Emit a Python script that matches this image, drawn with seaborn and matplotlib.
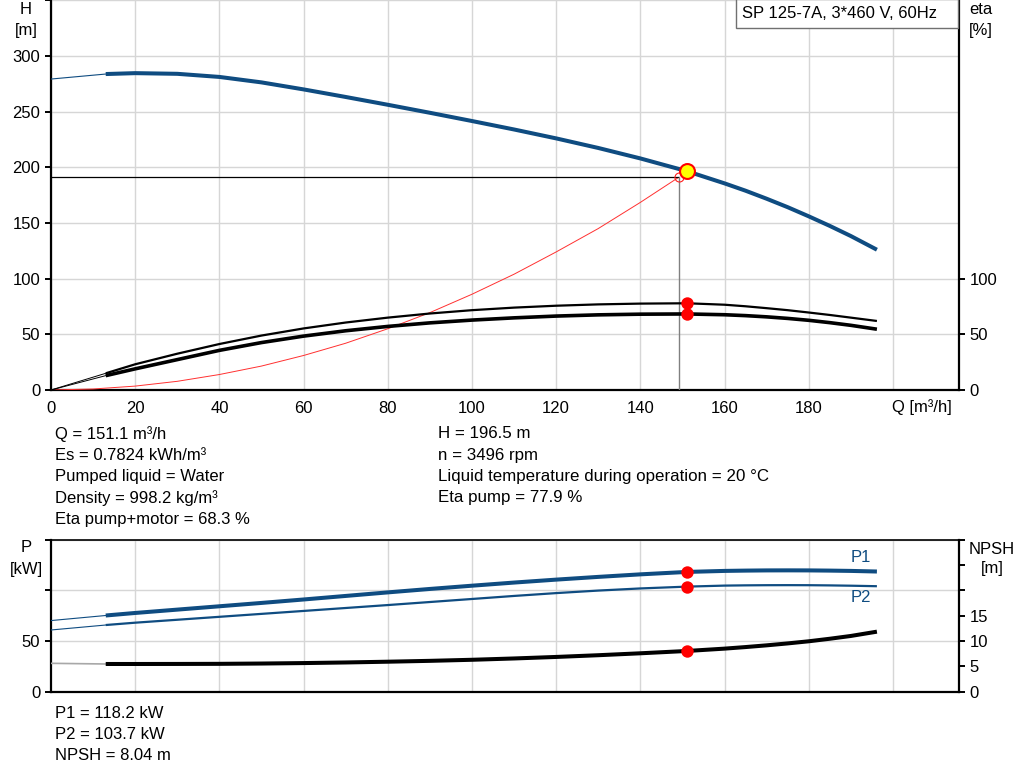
import matplotlib
matplotlib.use("Agg")
import matplotlib.pyplot as plt
import seaborn as sns
from matplotlib.patches import Rectangle

# ---------------- data ----------------
q = [13, 20, 30, 40, 50, 60, 70, 80, 90, 100, 110, 120, 130, 140, 151.1,
     160, 165, 170, 175, 180, 185, 190, 196.2]
head = [283.8, 284.6, 284.0, 281.2, 276.3, 270.0, 263.2, 256.2, 249.0, 241.6,
        234.0, 226.0, 217.4, 208.0, 196.5, 185.6, 179.0, 171.8, 164.2, 156.0,
        147.4, 138.3, 126.0]
eta_pump = [15.0, 23.1, 32.6, 41.3, 48.9, 55.3, 60.6, 65.0, 68.7, 71.7,
            74.0, 75.7, 76.9, 77.6, 77.9, 76.6, 75.2, 73.5, 71.7, 69.6,
            67.4, 65.0, 62.0]
eta_total = [12.9, 19.0, 27.3, 35.6, 42.6, 48.4, 53.2, 57.1, 60.3, 62.8,
             64.8, 66.4, 67.5, 68.1, 68.3, 67.6, 66.8, 65.7, 64.3, 62.6,
             60.5, 58.1, 54.6]
p1 = [75.2, 77.7, 81.0, 84.3, 87.6, 91.0, 94.5, 98.0, 101.4, 104.6,
      107.7, 110.6, 113.3, 115.8, 118.2, 119.2, 119.5, 119.7, 119.75, 119.7,
      119.5, 119.2, 118.6]
p2 = [65.8, 68.1, 71.0, 73.9, 76.8, 79.7, 82.6, 85.5, 88.5, 91.5,
      94.5, 97.3, 99.8, 101.9, 103.7, 104.7, 104.95, 105.1, 105.15, 105.1,
      104.9, 104.6, 104.1]
npsh = [5.47, 5.47, 5.48, 5.50, 5.56, 5.65, 5.77, 5.92, 6.09, 6.30,
        6.56, 6.86, 7.20, 7.58, 8.04, 8.50, 8.81, 9.15, 9.53, 9.95,
        10.45, 11.0, 11.85]

q_ext = [0, 13]
head_ext = [279.3, 283.8]
eta_pump_ext = [0, 15.0]
eta_total_ext = [0, 12.9]
p1_ext = [70.2, 75.2]
p2_ext = [60.9, 65.8]
npsh_ext = [5.6, 5.47]

q_sys = [0, 10, 20, 30, 40, 50, 60, 70, 80, 90, 100, 110, 120, 130, 140, 149.1]
h_sys = [0, 0.9, 3.5, 7.8, 13.9, 21.5, 31.0, 42.0, 55.0, 69.5, 86.0, 104.0,
         124.0, 145.0, 168.5, 191.0]

duty_q, duty_h = 151.1, 196.5
duty_eta_pump, duty_eta_total = 77.9, 68.3
duty_p1, duty_p2, duty_npsh = 118.2, 103.7, 8.04
req_q, req_h = 149.1, 191.0

x_ticks = [0, 20, 40, 60, 80, 100, 120, 140, 160, 180, 200]
x_ticklabels = ["0", "20", "40", "60", "80", "100", "120", "140", "160", "180", ""]
h_ticks = [0, 50, 100, 150, 200, 250, 300, 350]
h_ticklabels = ["0", "50", "100", "150", "200", "250", "300", ""]
eta_ticks = [0, 50, 100]
p_ticks = [0, 50, 100, 150]
p_ticklabels = ["0", "50", "", ""]
npsh_ticks = [0, 5, 10, 15, 20, 25, 30]
npsh_ticklabels = ["0", "5", "10", "15", "", "", ""]

title = "SP 125-7A, 3*460 V, 60Hz"
info_left = ["Q = 151.1 m³/h", "Es = 0.7824 kWh/m³", "Pumped liquid = Water",
             "Density = 998.2 kg/m³", "Eta pump+motor = 68.3 %"]
info_mid = ["H = 196.5 m", "n = 3496 rpm",
            "Liquid temperature during operation = 20 °C", "Eta pump = 77.9 %"]
info_bottom = ["P1 = 118.2 kW", "P2 = 103.7 kW", "NPSH = 8.04 m"]

# ---------------- style ----------------
sns.set_theme(style="white")
plt.rcParams["font.family"] = ["Liberation Sans", "DejaVu Sans"]
plt.rcParams["font.size"] = 12
plt.rcParams["lines.solid_joinstyle"] = "round"

W, H = 1024, 781
fig = plt.figure(figsize=(W / 100, H / 100), dpi=100)
fig.patch.set_facecolor("white")


def fx(px):
    return px / W


def fy(py):
    return 1 - py / H


BLUE = "#0f4c81"
GRID = "#d6d6d6"
XMAX = 215.7
LINE = dict(sort=False, estimator=None)


def style_ticks(ax, axis="both"):
    ax.tick_params(axis=axis, direction="out", length=4.2, width=1.4,
                   color="black", labelsize=12, pad=3.5, labelcolor="black")


# ---------------- top chart ----------------
ax1 = fig.add_axes([fx(51), fy(390), fx(959 - 51), 390 / H])
ax1.set_xlim(0, XMAX)
ax1.set_ylim(0, 350.3)
ax1.set_facecolor("white")
ax1.set_xticks(x_ticks)
ax1.set_xticklabels(x_ticklabels)
ax1.set_yticks(h_ticks)
ax1.set_yticklabels(h_ticklabels)
ax1.grid(True, color=GRID, lw=1.0)
ax1.set_axisbelow(True)
style_ticks(ax1)
for s in ["left", "bottom"]:
    ax1.spines[s].set_visible(True)
    ax1.spines[s].set_color("black")
    ax1.spines[s].set_linewidth(1.6)
ax1.spines["top"].set_visible(False)
ax1.spines["right"].set_visible(False)

# system curve
sns.lineplot(x=q_sys, y=h_sys, ax=ax1, color="#ff3030", lw=0.7, zorder=3, **LINE)
# duty reference lines
sns.lineplot(x=[0, req_q], y=[req_h, req_h], ax=ax1, color="black", lw=0.9,
             zorder=3, **LINE)
sns.lineplot(x=[req_q, req_q], y=[0, req_h], ax=ax1, color="#808080", lw=1.0,
             zorder=3, **LINE)

# extensions
sns.lineplot(x=q_ext, y=head_ext, ax=ax1, color=BLUE, lw=0.8, zorder=4, **LINE)
sns.lineplot(x=q_ext, y=eta_pump_ext, ax=ax1, color="black", lw=0.7, zorder=4, **LINE)
sns.lineplot(x=q_ext, y=eta_total_ext, ax=ax1, color="black", lw=0.7, zorder=4, **LINE)
# main curves
sns.lineplot(x=q, y=head, ax=ax1, color=BLUE, lw=2.9, zorder=5,
             solid_capstyle="butt", **LINE)
sns.lineplot(x=q, y=eta_pump, ax=ax1, color="black", lw=1.6, zorder=5,
             solid_capstyle="butt", **LINE)
sns.lineplot(x=q, y=eta_total, ax=ax1, color="black", lw=2.6, zorder=5,
             solid_capstyle="butt", **LINE)

# points
ax1.plot([req_q], [req_h], marker="o", ms=6.5, mfc="none", mec="#ff2020",
         mew=0.8, zorder=6)
sns.scatterplot(x=[duty_q, duty_q], y=[duty_eta_pump, duty_eta_total], ax=ax1,
                color="#ff0000", s=80, linewidth=0, zorder=7)
sns.scatterplot(x=[duty_q], y=[duty_h], ax=ax1, color="#ffff00", s=115,
                edgecolor="#ff0000", linewidth=1.5, zorder=8)
ax1.set_xlabel("")
ax1.set_ylabel("")

ax1r = ax1.twinx()
ax1r.set_ylim(0, 350.3)
ax1r.set_yticks(eta_ticks)
ax1r.set_yticklabels([str(v) for v in eta_ticks])
style_ticks(ax1r, "y")
ax1r.grid(False)
for s in ["left", "bottom", "top"]:
    ax1r.spines[s].set_visible(False)
ax1r.spines["right"].set_visible(True)
ax1r.spines["right"].set_color("black")
ax1r.spines["right"].set_linewidth(1.6)

# ---------------- bottom chart ----------------
ax2 = fig.add_axes([fx(51), fy(691.7), fx(959 - 51), 152 / H])
ax2.set_xlim(0, XMAX)
ax2.set_ylim(0, 150)
ax2.set_facecolor("white")
ax2.set_xticks(x_ticks[1:])
ax2.set_yticks(p_ticks)
ax2.set_yticklabels(p_ticklabels)
ax2.grid(True, color=GRID, lw=1.0)
ax2.set_axisbelow(True)
ax2.tick_params(axis="x", length=0, labelbottom=False)
style_ticks(ax2, "y")
for s in ["left", "bottom", "top"]:
    ax2.spines[s].set_visible(True)
    ax2.spines[s].set_color("black")
    ax2.spines[s].set_linewidth(1.6)
ax2.spines["top"].set_linewidth(1.2)
ax2.spines["right"].set_visible(False)

sns.lineplot(x=q_ext, y=p1_ext, ax=ax2, color=BLUE, lw=0.8, zorder=4, **LINE)
sns.lineplot(x=q_ext, y=p2_ext, ax=ax2, color=BLUE, lw=0.8, zorder=4, **LINE)
sns.lineplot(x=q, y=p1, ax=ax2, color=BLUE, lw=2.9, zorder=5,
             solid_capstyle="butt", **LINE)
sns.lineplot(x=q, y=p2, ax=ax2, color=BLUE, lw=1.6, zorder=5,
             solid_capstyle="butt", **LINE)
sns.scatterplot(x=[duty_q, duty_q], y=[duty_p1, duty_p2], ax=ax2,
                color="#ff0000", s=80, linewidth=0, zorder=7)
ax2.set_xlabel("")
ax2.set_ylabel("")

ax2r = ax2.twinx()
ax2r.set_ylim(0, 30)
ax2r.set_yticks(npsh_ticks)
ax2r.set_yticklabels(npsh_ticklabels)
style_ticks(ax2r, "y")
ax2r.grid(False)
for s in ["left", "bottom", "top"]:
    ax2r.spines[s].set_visible(False)
ax2r.spines["right"].set_visible(True)
ax2r.spines["right"].set_color("black")
ax2r.spines["right"].set_linewidth(1.6)
sns.lineplot(x=q_ext, y=npsh_ext, ax=ax2r, color="#a8a8a8", lw=1.2, zorder=4, **LINE)
sns.lineplot(x=q, y=npsh, ax=ax2r, color="black", lw=2.9, zorder=5,
             solid_capstyle="butt", **LINE)
sns.scatterplot(x=[duty_q], y=[duty_npsh], ax=ax2r, color="#ff0000", s=80,
                linewidth=0, zorder=7)
ax2r.set_ylabel("")

# ---------------- texts ----------------
def t(px, py, s, **kw):
    kw.setdefault("va", "center")
    kw.setdefault("ha", "left")
    kw.setdefault("fontsize", 12)
    kw.setdefault("color", "black")
    fig.text(fx(px), fy(py), s, **kw)


t(26, 9.5, "H", ha="center")
t(26, 30, "[m]", ha="center")
t(981, 10, "eta", ha="center")
t(981, 30, "[%]", ha="center")
t(922, 407, "Q [m³/h]", ha="center")
t(26, 548, "P", ha="center")
t(26, 569.5, "[kW]", ha="center")
t(992, 549, "NPSH", ha="center")
t(992, 569, "[m]", ha="center")
t(851, 558, "P1", color=BLUE)
t(851, 598, "P2", color=BLUE)

ys = [434, 455.3, 476.6, 497.9, 519.2]
for yy, s in zip(ys, info_left):
    t(55, yy, s)
for yy, s in zip(ys, info_mid):
    t(438, yy, s, fontsize=12.15)
for yy, s in zip([713.5, 734.7, 755.9], info_bottom):
    t(55, yy, s)

box = Rectangle((fx(736), fy(28)), fx(958 - 736), 29 / H, transform=fig.transFigure,
                facecolor="white", edgecolor="#707070", lw=1.0, zorder=5)
fig.add_artist(box)
t(742, 14, title, zorder=6)

fig.savefig("out.png", dpi=100, facecolor="white")
